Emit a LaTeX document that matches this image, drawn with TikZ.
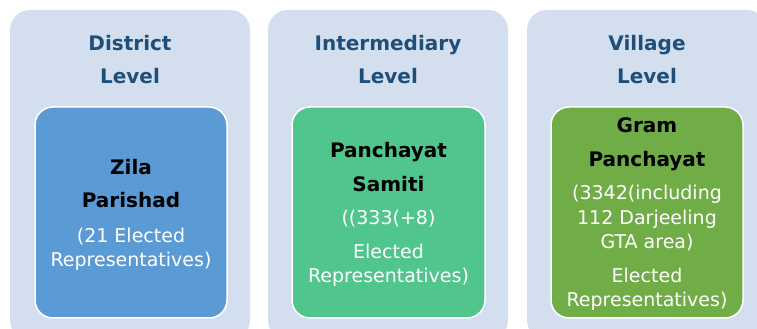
\documentclass[tikz,border=0pt]{standalone}
\usepackage{fontspec}
\setmainfont{DejaVu Sans}
\definecolor{outerbg}{HTML}{D3DEEF}
\definecolor{titlecol}{HTML}{1F4E79}
\definecolor{zilacol}{HTML}{5B9BD5}
\definecolor{samiticol}{HTML}{50C58C}
\definecolor{gramcol}{HTML}{70AD47}
\tikzset{
  outerbox/.style={fill=outerbg, draw=none, rounded corners=20pt},
  innerbox/.style={draw=white, line width=1.5pt, rounded corners=18pt},
  title/.style={anchor=base, inner sep=0pt, text=titlecol, font=\fontsize{20}{24}\selectfont\bfseries},
  head/.style={anchor=base, inner sep=0pt, text=black, font=\fontsize{20}{24}\selectfont\bfseries},
  body/.style={anchor=base, inner sep=0pt, text=white, font=\fontsize{19}{23}\selectfont},
}
\begin{document}
\begin{tikzpicture}[x=1pt,y=1pt]
\useasboundingbox (0,0) rectangle (757,329);
\clip (0,0) rectangle (757,329);
\fill[white] (0,0) rectangle (757,329);
% outer panels
\path[outerbox] (10,-11) rectangle (250,319);
\path[outerbox] (268,-11) rectangle (508,319);
\path[outerbox] (527,-11) rectangle (767,319);
% inner boxes
\path[innerbox, fill=zilacol] (35,11) rectangle (227,222);
\path[innerbox, fill=samiticol] (292,11) rectangle (485,222);
\path[innerbox, fill=gramcol] (551,11) rectangle (743,222);
% titles
\node[title] (t1a) at (130,278) {District};
\node[title] (t1b) at (130,245) {Level};
\node[title] (t2a) at (388,278) {Intermediary};
\node[title] (t2b) at (388,245) {Level};
\node[title] (t3a) at (647,278) {Village};
\node[title] (t3b) at (647,245) {Level};
% box 1
\node[head] (z1) at (131,154) {Zila};
\node[head] (z2) at (131,121) {Parishad};
\node[body] (z3) at (131,86) {(21 Elected};
\node[body] (z4) at (131,62) {Representatives)};
% box 2
\node[head] (s1) at (388.5,171) {Panchayat};
\node[head] (s2) at (388.5,137) {Samiti};
\node[body] (s3) at (388.5,104) {((333(+8)};
\node[body] (s4) at (388.5,70) {Elected};
\node[body] (s5) at (388.5,46) {Representatives)};
% box 3
\node[head] (g1) at (647,196) {Gram};
\node[head] (g2) at (647,162) {Panchayat};
\node[body] (g3) at (647,129) {(3342(including};
\node[body] (g4) at (647,104) {112 Darjeeling};
\node[body] (g5) at (647,80) {GTA area)};
\node[body] (g6) at (647,46) {Elected};
\node[body] (g7) at (647,22) {Representatives)};
\end{tikzpicture}
\end{document}
